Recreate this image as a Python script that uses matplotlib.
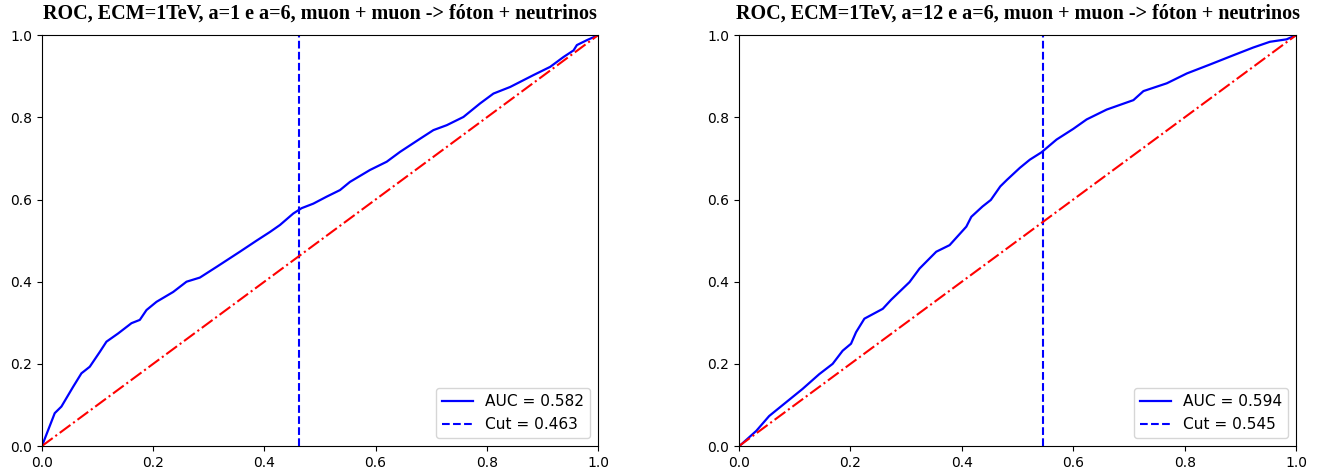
""" ROC curves, muon + muon -> foton + neutrinos """

import matplotlib
matplotlib.use('Agg')
import matplotlib.pyplot as plt

# ROC points (false positive rate, true positive rate)
fpr1 = [0.0, 0.023, 0.035, 0.056, 0.071, 0.086, 0.104, 0.116, 0.137, 0.161, 0.176,
        0.188, 0.206, 0.236, 0.260, 0.284, 0.314, 0.356, 0.386, 0.410, 0.428,
        0.452, 0.467, 0.488, 0.512, 0.536, 0.554, 0.590, 0.620, 0.644, 0.680,
        0.704, 0.728, 0.758, 0.788, 0.812, 0.842, 0.884, 0.914, 0.938, 0.956,
        0.962, 0.980, 1.0]
tpr1 = [0.0, 0.080, 0.096, 0.144, 0.177, 0.193, 0.229, 0.254, 0.274, 0.299, 0.307,
        0.331, 0.351, 0.375, 0.400, 0.410, 0.436, 0.473, 0.500, 0.521, 0.538,
        0.566, 0.579, 0.590, 0.607, 0.623, 0.643, 0.672, 0.692, 0.716, 0.748,
        0.769, 0.781, 0.801, 0.834, 0.858, 0.874, 0.903, 0.923, 0.947, 0.963,
        0.976, 0.988, 1.0]

fpr2 = [0.0, 0.004, 0.031, 0.054, 0.084, 0.114, 0.144, 0.168, 0.186, 0.201, 0.210,
        0.225, 0.258, 0.273, 0.306, 0.324, 0.354, 0.378, 0.408, 0.417, 0.437,
        0.452, 0.469, 0.481, 0.504, 0.522, 0.543, 0.570, 0.600, 0.624, 0.660,
        0.708, 0.726, 0.768, 0.804, 0.846, 0.887, 0.923, 0.953, 0.983, 1.0]
tpr2 = [0.0, 0.004, 0.037, 0.073, 0.106, 0.139, 0.175, 0.200, 0.232, 0.249, 0.277,
        0.310, 0.334, 0.356, 0.399, 0.432, 0.473, 0.489, 0.534, 0.558, 0.583,
        0.599, 0.632, 0.648, 0.677, 0.697, 0.715, 0.746, 0.772, 0.795, 0.819,
        0.842, 0.864, 0.883, 0.907, 0.929, 0.951, 0.970, 0.984, 0.990, 1.0]

aucs = [0.582, 0.594]
cuts = [0.463, 0.545]
titles = ['ROC, ECM=1TeV, a=1 e a=6, muon + muon -> fóton + neutrinos',
          'ROC, ECM=1TeV, a=12 e a=6, muon + muon -> fóton + neutrinos']

fig = plt.figure(figsize=(13.36, 4.76), dpi=100)
ax1 = fig.add_axes([0.0314, 0.063, 0.4162, 0.863])
ax2 = fig.add_axes([0.5532, 0.063, 0.4169, 0.863])

curves = [(fpr1, tpr1), (fpr2, tpr2)]
for ax, (fpr, tpr), auc, cut, title in zip([ax1, ax2], curves, aucs, cuts, titles):
    ax.plot(fpr, tpr, color='blue', lw=1.6, label=f'AUC = {auc:.3f}')
    ax.axvline(cut, color='blue', ls='--', lw=1.5, label=f'Cut = {cut:.3f}')
    ax.plot([0, 1], [0, 1], color='red', ls='-.', lw=1.5)
    ax.set_xlim(0, 1)
    ax.set_ylim(0, 1)
    ax.legend(loc='lower right', fontsize=11.1)
    ax.set_title(title, family='Liberation Serif', fontweight='bold', fontsize=14.5, pad=12)

plt.savefig('out.png', dpi=100)
